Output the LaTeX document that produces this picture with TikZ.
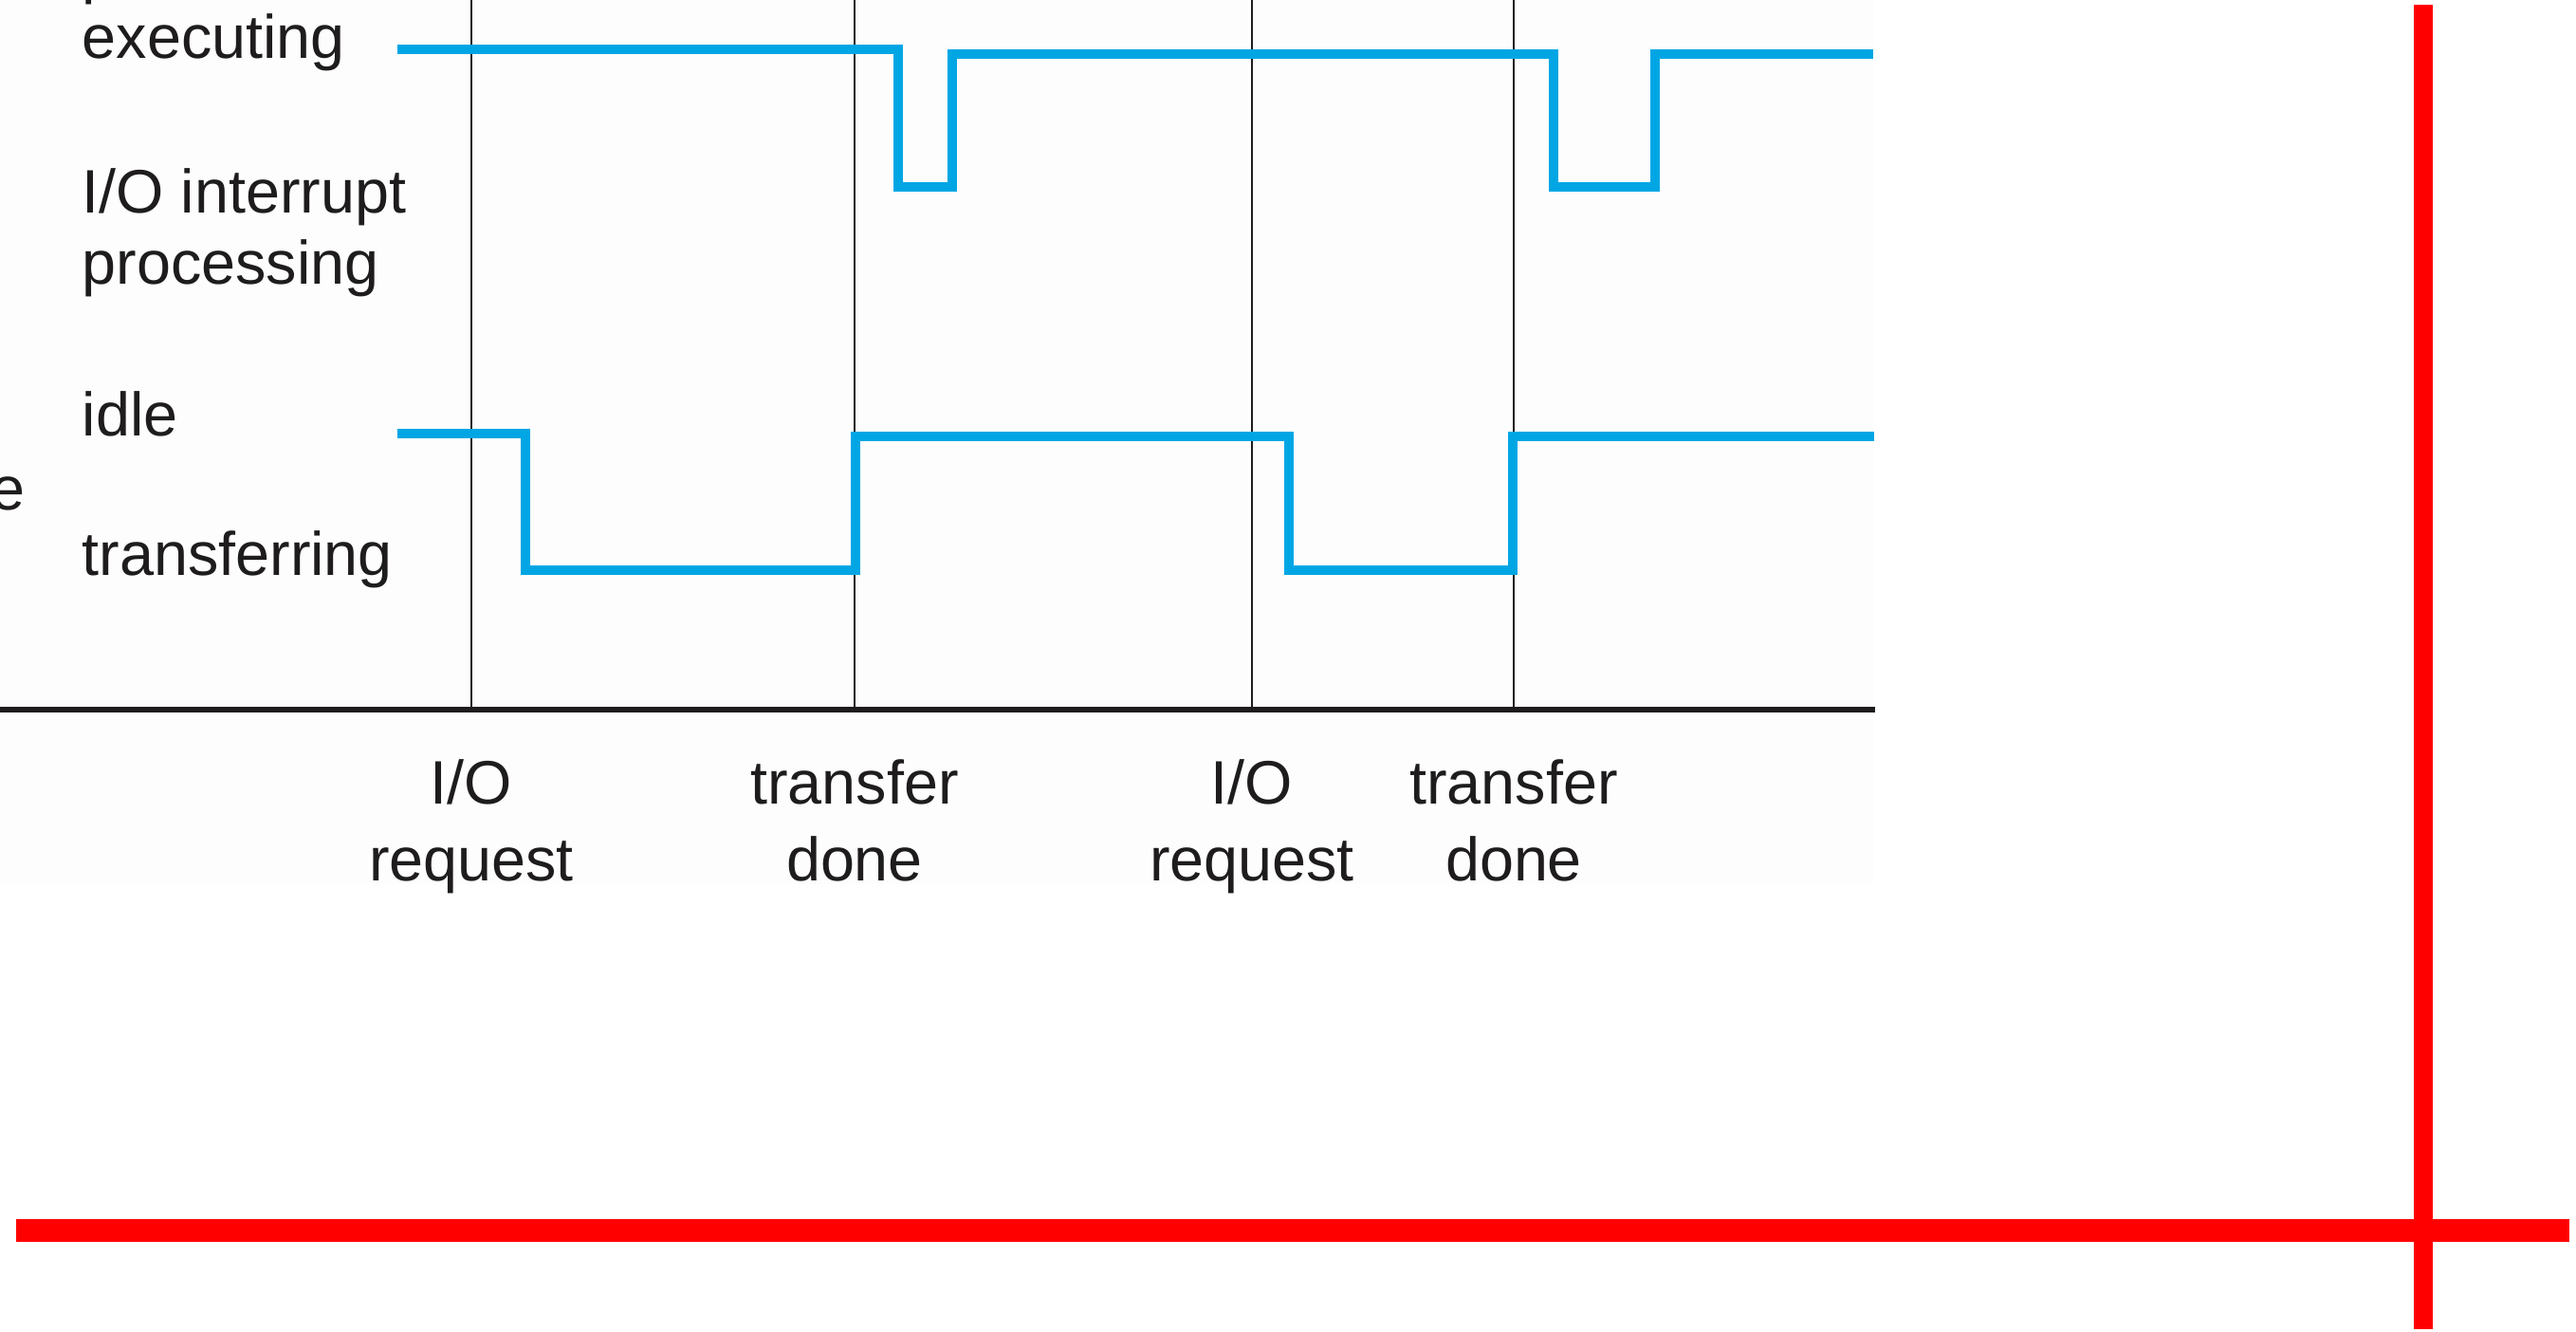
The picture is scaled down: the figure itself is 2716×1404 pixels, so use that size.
\documentclass[tikz,border=0pt]{standalone}
\usepackage{fontspec}
\setmainfont{Liberation Sans}
\usepackage{xcolor}
\usetikzlibrary{positioning}
\definecolor{signalblue}{RGB}{0,166,228}
\definecolor{ink}{RGB}{30,28,28}
\definecolor{figbg}{RGB}{253,253,253}
\tikzset{%
	state-label/.style={
		inner sep=0pt,
		anchor=base west,
		align=left,
		text=ink,
		font=\fontsize{18.4}{21.6}\selectfont
	},
	event-label/.style={
		inner sep=0pt,
		anchor=base,
		align=center,
		text=ink,
		font=\fontsize{18.4}{23}\selectfont
	},
	signal/.style={ draw=signalblue, line width=2.6pt, line join=miter },
	timeline/.style={ draw=ink, line width=0.8pt },
	axis-line/.style={ draw=ink, line width=1.7pt },
	redmark/.style={ draw=red, line cap=butt },
}

\begin{document}
\begin{tikzpicture}[x=0.01cm, y=-0.01cm]
\useasboundingbox (0,0) rectangle (2716,1404);
\clip (0,0) rectangle (2716,1404);
\fill[white] (0,0) rectangle (2716,1404);
\fill[figbg] (0,0) rectangle (1975,932);

% time axis
\coordinate (axis-l) at (0,748);
\coordinate (axis-r) at (1977,748);
\foreach \x [count=\i] in {497,901,1320,1596}
	\coordinate (t\i) at (\x,0);
\foreach \i in {1,...,4}
	\draw[timeline] (t\i) -- (t\i |- axis-l);
\draw[axis-line] (axis-l) -- (axis-r);

% state labels (base = last line)
\node[state-label] (cpu-above) at (86,-8) {process};
\node[state-label] (cpu-exec) at (86,62) {executing};
\node[state-label] (cpu-intr) at (86,300) {I/O interrupt\\processing};
\node[state-label] (dev-idle) at (86,460) {idle};
\node[state-label] (dev-xfer) at (86,607) {transferring};
\node[state-label, anchor=base east] (dev-name) at (27,538) {e};

% signals
\draw[signal] (419,52) -- (947,52) -- (947,197) -- (1004,197) -- (1004,57)
	-- (1638,57) -- (1638,197) -- (1745,197) -- (1745,57) -- (1975,57);
\draw[signal] (419,457) -- (554,457) -- (554,601) -- (902,601) -- (902,460)
	-- (1359,460) -- (1359,601) -- (1595,601) -- (1595,460) -- (1976,460);

% event labels
\foreach \x/\l [count=\i] in {497/{I/O\\request}, 901/{transfer\\done}, 1320/{I/O\\request}, 1596/{transfer\\done}}
	\node[event-label] (event-\i) at (\x,928) {\l};

% red marks
\draw[redmark, line width=5.7pt] (2555,5) -- (2555,1401);
\draw[redmark, line width=7.1pt] (17,1297) -- (2709,1297);

\end{tikzpicture}
\end{document}
